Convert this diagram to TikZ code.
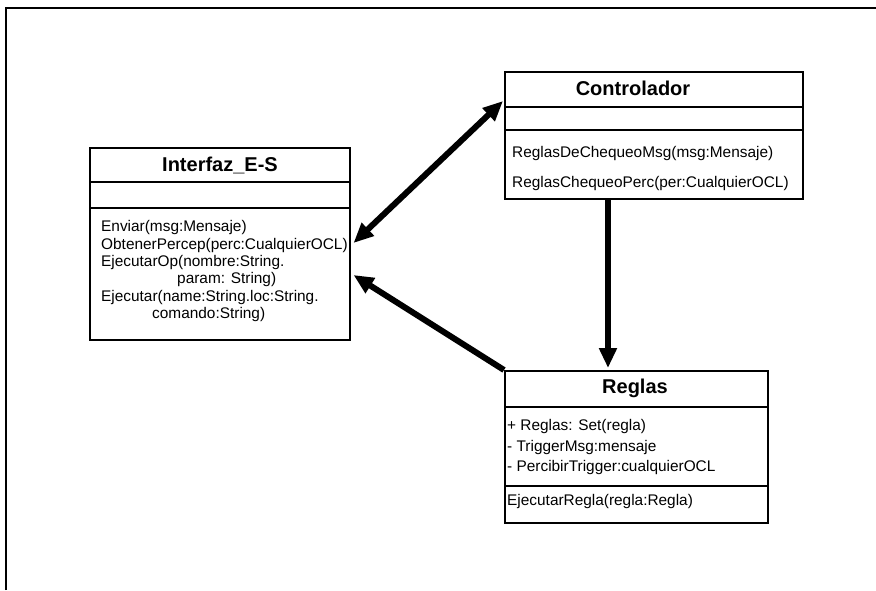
\documentclass[tikz,border=0pt]{standalone}
\usepackage{fontspec}
\setmainfont{Liberation Sans}
\usetikzlibrary{arrows.meta,calc}
\begin{document}
\begin{tikzpicture}[x=1pt,y=-1pt,
  umlbox/.style={draw,line width=1.5pt,inner sep=0pt,anchor=north west},
  umltitle/.style={inner sep=0pt,font=\bfseries\fontsize{20}{24}\selectfont},
  member/.style={inner sep=0pt,anchor=base west,font=\fontsize{15.4}{17}\selectfont},
  sep/.style={line width=1.5pt},
  assoc/.style={line width=6pt,-{Triangle[length=20pt,width=17pt]}},
  assoc2/.style={line width=6pt,{Triangle[length=20pt,width=17pt]}-{Triangle[length=20pt,width=17pt]}}]
\useasboundingbox (0,0) rectangle (876,590);
% outer frame
\draw[line width=1.8pt] (6,590) -- (6,8) -- (876,8);

% Interfaz_E-S
\node[umlbox,minimum width=260pt,minimum height=192pt] (ies) at (89,147) {};
\draw[sep] ($(ies.north west)+(0,35)$) -- ($(ies.north east)+(0,35)$);
\draw[sep] ($(ies.north west)+(0,61)$) -- ($(ies.north east)+(0,61)$);
\node[umltitle] (iest) at (220,165) {Interfaz\_E-S};
\node[member] (ies1) at (101,231) {Enviar(msg:Mensaje)};
\node[member] (ies2) at (101,249) {ObtenerPercep(perc:CualquierOCL)};
\node[member] (ies3) at (101,266) {EjecutarOp(nombre:String.};
\node[member] (ies4) at (177,283) {param: String)};
\node[member] (ies5) at (101,301) {Ejecutar(name:String.loc:String.};
\node[member] (ies6) at (152,318) {comando:String)};

% Controlador
\node[umlbox,minimum width=298pt,minimum height=127pt] (ctrl) at (504,71) {};
\draw[sep] ($(ctrl.north west)+(0,36)$) -- ($(ctrl.north east)+(0,36)$);
\draw[sep] ($(ctrl.north west)+(0,59)$) -- ($(ctrl.north east)+(0,59)$);
\node[umltitle] (ctrlt) at (633,88) {Controlador};
\node[member] (ctrl1) at (512,157) {ReglasDeChequeoMsg(msg:Mensaje)};
\node[member] (ctrl2) at (512,187) {ReglasChequeoPerc(per:CualquierOCL)};

% Reglas
\node[umlbox,minimum width=263pt,minimum height=152pt] (reg) at (504,370) {};
\draw[sep] ($(reg.north west)+(0,37)$) -- ($(reg.north east)+(0,37)$);
\draw[sep] ($(reg.north west)+(0,116)$) -- ($(reg.north east)+(0,116)$);
\node[umltitle] (regt) at (635,388) {Reglas};
\node[member] (reg1) at (507,430) {+ Reglas: Set(regla)};
\node[member] (reg2) at (507,451) {- TriggerMsg:mensaje};
\node[member] (reg3) at (507,471) {- PercibirTrigger:cualquierOCL};
\node[member] (reg4) at (507,505) {EjecutarRegla(regla:Regla)};

% connectors
\draw[assoc2] ($(ies.north east)+(3,96)$) -- ($(ctrl.north west)+(-1,30)$);
\draw[assoc] (reg.north west) -- ($(ies.north east)+(3,128)$);
\draw[assoc] ($(ctrl.south west)+(104,0)$) -- ($(reg.north west)+(104,-2)$);
\end{tikzpicture}
\end{document}
